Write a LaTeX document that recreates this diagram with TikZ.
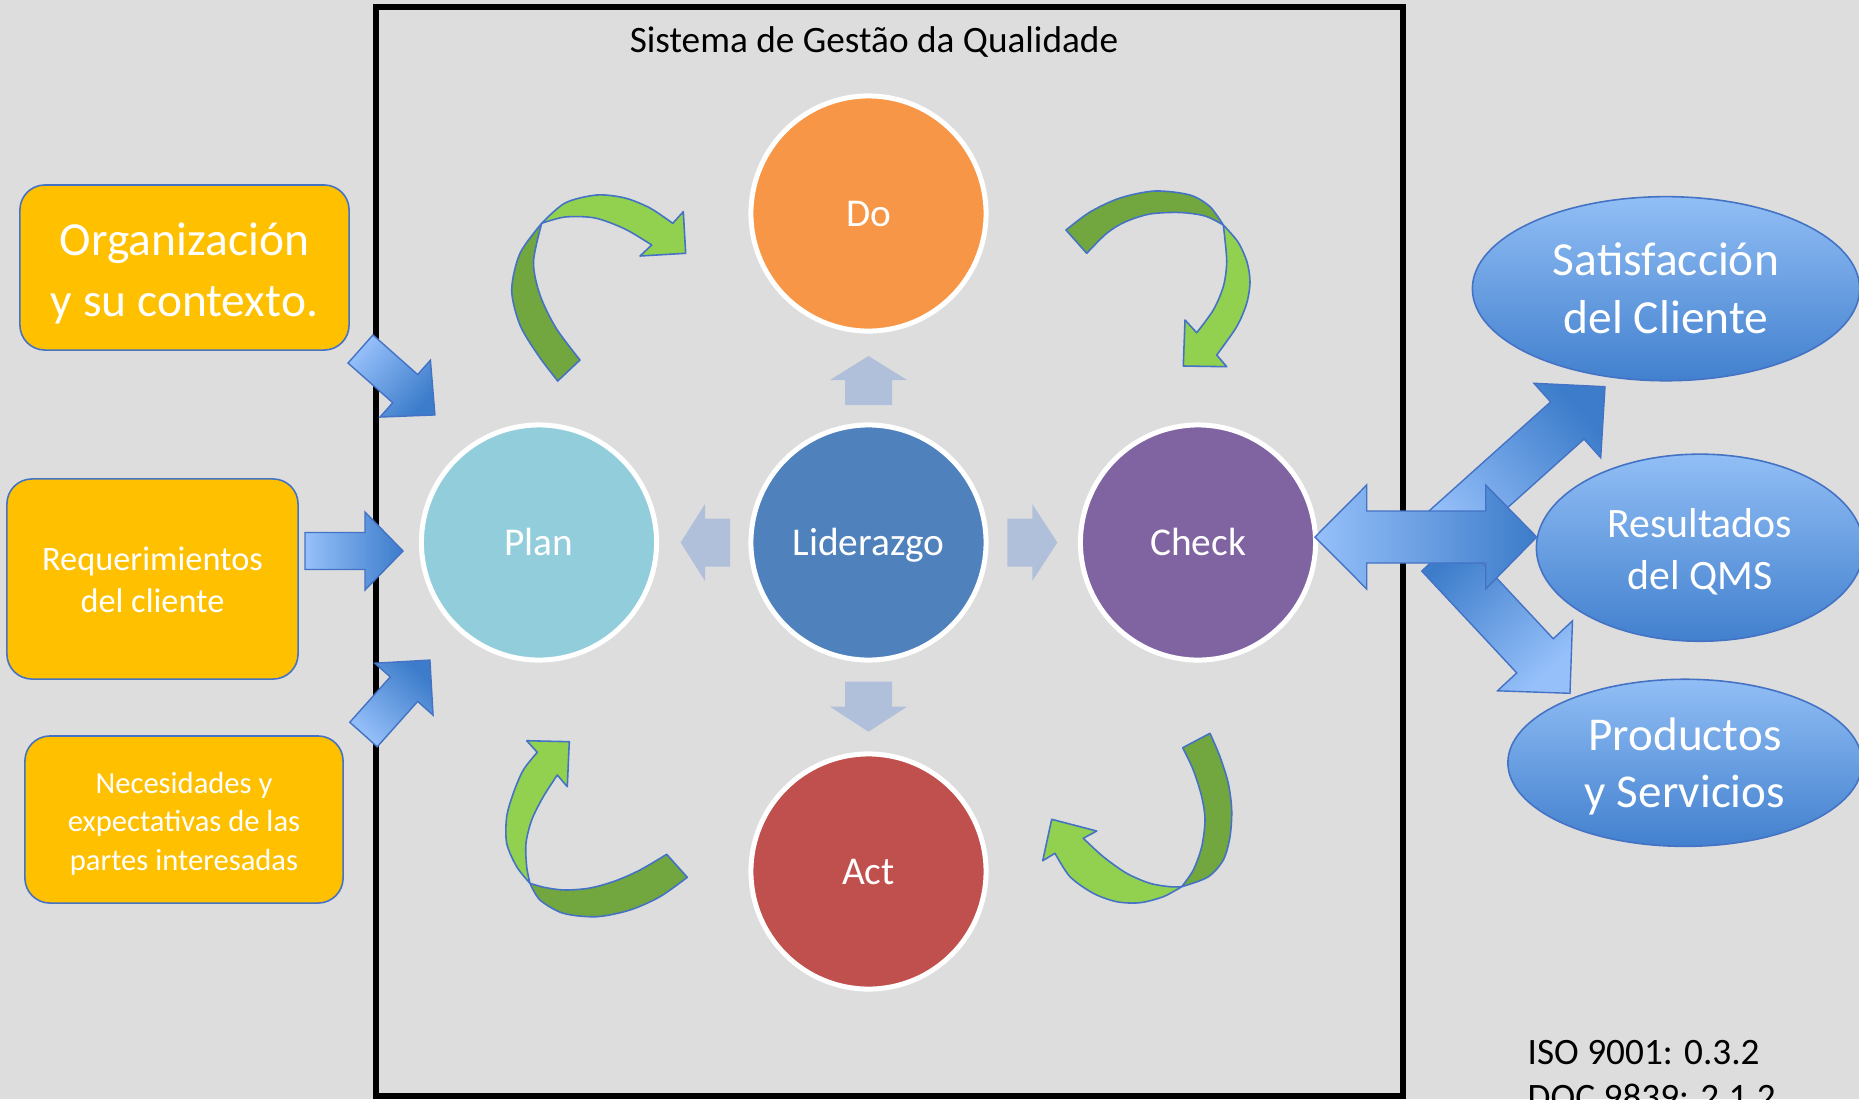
\documentclass[tikz,border=0pt]{standalone}
\usepackage{fontspec}
\setmainfont{Carlito}
\usetikzlibrary{shapes.geometric,calc}

\definecolor{bg}{RGB}{221,221,221}
\definecolor{cPlan}{RGB}{146,205,220}
\definecolor{cDo}{RGB}{247,150,70}
\definecolor{cLid}{RGB}{79,129,189}
\definecolor{cCheck}{RGB}{128,100,162}
\definecolor{cAct}{RGB}{192,80,77}
\definecolor{cSmall}{RGB}{176,192,218}
\definecolor{cYel}{RGB}{255,192,0}
\definecolor{cEdge}{RGB}{68,114,196}
\definecolor{gLight}{RGB}{146,208,80}
\definecolor{gDark}{RGB}{114,166,62}
\definecolor{bLight}{RGB}{150,192,250}
\definecolor{bDark}{RGB}{60,124,202}
\definecolor{eTop}{RGB}{145,190,245}
\definecolor{eBot}{RGB}{66,128,206}

% fat block arrow: #1 style, (#2,#3) tail centre, (#4,#5) tip, #6 shaft half width, #7 head half width, #8 head length
\newcommand\fatarr[8]{%
  \pgfmathsetmacro\faang{atan2((#5)-(#3),(#4)-(#2))}%
  \pgfmathsetmacro\falen{veclen((#4)-(#2),(#5)-(#3))}%
  \pgfmathsetmacro\fab{\falen-(#8)}%
  \begin{scope}[shift={(#2,#3)}, rotate=-\faang]
    \path[#1] (0,-#6) -- (\fab,-#6) -- (\fab,-#7) -- (\falen,0) -- (\fab,#7) -- (\fab,#6) -- (0,#6) -- cycle;
  \end{scope}}

\begin{document}
\begin{tikzpicture}[x=0.01cm,y=-0.01cm,
  phase/.style={circle, draw=white, line width=1.42pt, minimum size=2.35cm, inner sep=0pt,
    text=white, font=\fontsize{11.2}{13}\selectfont, text height=7.2pt, text depth=0pt},
  ybox/.style={draw=cEdge, line width=0.45pt, fill=cYel, rounded corners=0.25cm, inner sep=0pt},
  wtext/.style={text=white, align=center, inner sep=0pt},
  ell/.style={ellipse, draw=cEdge, line width=0.45pt, top color=eTop, bottom color=eBot, inner sep=0pt},
  gdk/.style={fill=gDark, draw=cEdge, line width=0.45pt, line join=round},
  glt/.style={fill=gLight, draw=cEdge, line width=0.45pt, line join=round},
  barr/.style={draw=cEdge, line width=0.4pt, line join=miter},
  small/.style={fill=cSmall}
]
\useasboundingbox (0,0) rectangle (1859,1099);
\clip (0,0) rectangle (1859,1099);
\fill[bg] (0,0) rectangle (1859,1099);

% frame
\draw[line width=1.7pt] (376,7) rectangle (1403,1096);
\node[anchor=base, font=\fontsize{10.6}{12.8}\selectfont] (title) at (874,52) {Sistema de Gestão da Qualidade};

% curved green arrows
% top-left
\filldraw[gdk] plot[smooth] coordinates {(541.7,223.3) (520,253.3) (511.7,290) (520,325) (538,355) (557.7,381)}
  -- plot[smooth] coordinates {(580,360) (556,328) (540,295) (533.5,262) (541.7,223.3)} -- cycle;
\filldraw[glt] plot[smooth] coordinates {(541.7,223.3) (565,203) (596.7,195) (625,198) (650,208) (672.7,223.3)}
  -- (683.3,211.7) -- (685.7,253.3) -- (640,256)
  -- plot[smooth] coordinates {(651.7,245) (625,229) (595,218) (565,217) (541.7,223.3)} -- cycle;
% top-right
\filldraw[gdk] plot[smooth] coordinates {(1066,230) (1090,212) (1120,198) (1155,191) (1190,195) (1210,206.7) (1223.3,225)}
  -- plot[smooth] coordinates {(1223.3,225) (1205,216) (1180,212.5) (1150,214) (1125,222) (1106.7,233.3) (1086.7,253.3)} -- cycle;
\filldraw[glt] plot[smooth] coordinates {(1223.3,225) (1238,242) (1247,262) (1250,282) (1246.7,303.3) (1236.7,326.7) (1216.7,355)}
  -- (1226.7,366.7) -- (1183.3,366) -- (1185,320)
  -- plot[smooth] coordinates {(1196.7,332.7) (1213.3,310) (1223.3,286.7) (1226.7,263.3) (1225,240) (1223.3,225)} -- cycle;
% bottom-right
\filldraw[gdk] plot[smooth] coordinates {(1210,733.3) (1220,756.7) (1228.3,783.3) (1231.7,810) (1230,836.7) (1223.3,860) (1208,877) (1181.7,886.7)}
  -- plot[smooth] coordinates {(1181.7,886.7) (1193.3,870) (1201.7,846.7) (1205,820) (1201.7,796.7) (1193.3,770) (1182.7,747.7)} -- cycle;
\filldraw[glt] plot[smooth] coordinates {(1181.7,886.7) (1163.3,896.7) (1140,902.7) (1116.7,901.7) (1093.3,893.3) (1070,876.7) (1055,853.3)}
  -- (1042.7,860.7) -- (1051.7,819.3) -- (1096.7,831)
  -- plot[smooth] coordinates {(1083.3,838.3) (1103.3,856.7) (1126.7,873.3) (1150,883.3) (1170,886.7) (1181.7,886.7)} -- cycle;
% bottom-left
\filldraw[gdk] plot[smooth] coordinates {(687.3,877.3) (660,896.7) (630,910) (596.7,916.7) (563.3,913.3) (540,900) (530,883.3)}
  -- plot[smooth] coordinates {(530,883.3) (545,887.5) (565,890) (590,888) (615,881) (640,870) (666.7,854.3)} -- cycle;
\filldraw[glt] plot[smooth] coordinates {(530,883.3) (516.7,866.7) (506.7,843.3) (506.7,816.7) (513.3,793.3) (523.3,770) (537.3,752.3)}
  -- (526.7,740.7) -- (569.3,741.7) -- (567.3,786.7)
  -- plot[smooth] coordinates {(557.3,775) (543.3,796.7) (531.7,820) (526,843.3) (526.7,866.7) (530,883.3)} -- cycle;

% small arrows around Liderazgo
\fill[small] (845,405) -- (845,380) -- (830,380) -- (868.5,356) -- (907,380) -- (892,380) -- (892,405) -- cycle;
\fill[small] (845,681.7) -- (845,706.7) -- (830,706.7) -- (868.5,731.7) -- (907,706.7) -- (892,706.7) -- (892,681.7) -- cycle;
\fill[small] (730,518.5) -- (705,518.5) -- (705,504) -- (680.7,542.5) -- (705,581) -- (705,566.5) -- (730,566.5) -- cycle;
\fill[small] (1007.3,518.5) -- (1032.3,518.5) -- (1032.3,504) -- (1057.3,542.5) -- (1032.3,581) -- (1032.3,566.5) -- (1007.3,566.5) -- cycle;

% PDCA circles
\node[phase, fill=cLid] (lid) at (868.5,542.5) {Liderazgo};
\node[phase, fill=cDo] (do) at (868.5,213.5) {Do};
\node[phase, fill=cAct] (act) at (868.5,871.5) {Act};
\node[phase, fill=cPlan] (plan) at (539,542.5) {Plan};
\node[phase, fill=cCheck] (check) at (1198,542.5) {Check};

% left boxes
\node[ybox, minimum width=3.29cm, minimum height=1.65cm] (org) at (184.5,267.5) {};
\node[wtext, font=\fontsize{13.5}{17.2}\selectfont] (orgt) at (184.5,273.5) {Organización\\y su contexto.};
\node[ybox, minimum width=2.91cm, minimum height=2.0cm] (req) at (152.5,579) {};
\node[wtext, font=\fontsize{9.75}{11.9}\selectfont] (reqt) at (152.5,580) {Requerimientos\\del cliente};
\node[ybox, minimum width=3.18cm, minimum height=1.67cm] (nec) at (184,819.5) {};
\node[wtext, font=\fontsize{8.7}{10.9}\selectfont] (nect) at (184,823.5) {Necesidades y\\expectativas de las\\partes interesadas};

% left input arrows
\fatarr{barr, top color=bLight, bottom color=bDark, shading angle=48.5}{360.5}{349}{435}{415}{18.8}{38}{39.7}
\fatarr{barr, left color=bLight, right color=bDark}{305}{551}{403}{551}{18.5}{39}{38}
\fatarr{barr, top color=bLight, bottom color=bDark, shading angle=138.2}{363.5}{734.5}{430}{660}{18.4}{39}{39}

% right ellipses
\node[ell, minimum width=3.87cm, minimum height=1.84cm] (sat) at (1666,288.7) {};
\node[wtext, font=\fontsize{13.5}{16.5}\selectfont] (satt) at (1666,288.7) {Satisfacción\\del Cliente};
\node[ell, minimum width=3.27cm, minimum height=1.87cm] (res) at (1700,547.7) {};
\node[wtext, font=\fontsize{11.9}{14.8}\selectfont] (rest) at (1700,551.5) {Resultados\\del QMS};
\node[ell, minimum width=3.54cm, minimum height=1.67cm] (prod) at (1685,762.8) {};
\node[wtext, font=\fontsize{13.4}{16.2}\selectfont] (prodt) at (1685,766.5) {Productos\\y Servicios};

% output arrows
\fatarr{barr, top color=bLight, bottom color=bDark, shading angle=131.6}{1440}{534.7}{1605}{386.7}{25}{50}{50.6}
\fatarr{barr, top color=bDark, bottom color=bLight, shading angle=43}{1440}{554}{1570}{693.3}{25}{51.3}{51.3}
\path[barr, left color=bLight, right color=bDark] (1315,537) -- (1366.7,485) -- (1366.7,511) -- (1485.7,511) -- (1485.7,485)
  -- (1536.7,537) -- (1485.7,589) -- (1485.7,563) -- (1366.7,563) -- (1366.7,589) -- cycle;

% reference text
\node[anchor=base west, font=\fontsize{10.6}{12.8}\selectfont, inner sep=0pt] (iso) at (1527,1064) {ISO 9001: 0.3.2};
\node[anchor=base west, font=\fontsize{10.6}{12.8}\selectfont, inner sep=0pt] (doc) at (1527,1109) {DOC 9839: 2.1.2};
\end{tikzpicture}
\end{document}
